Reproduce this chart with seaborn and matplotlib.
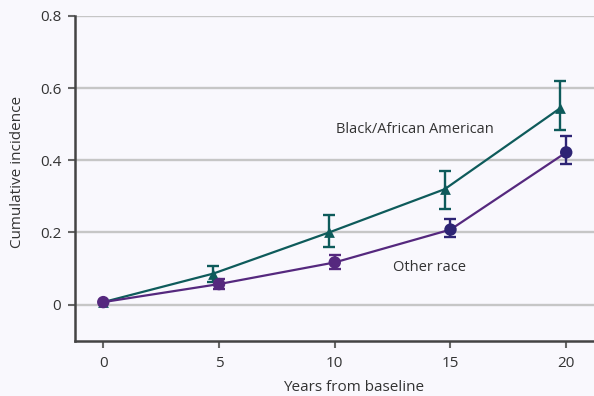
import matplotlib
matplotlib.use("Agg")
import matplotlib.pyplot as plt
import numpy as np
import pandas as pd
import seaborn as sns

# Cumulative incidence by years from baseline
years = [0, 5, 10, 15, 20]

black_est = [0.007, 0.086, 0.200, 0.320, 0.545]
black_lo = [0.007, 0.064, 0.160, 0.265, 0.483]
black_hi = [0.007, 0.106, 0.248, 0.371, 0.621]

other_est = [0.007, 0.057, 0.117, 0.208, 0.422]
other_lo = [0.007, 0.043, 0.099, 0.187, 0.391]
other_hi = [0.007, 0.071, 0.138, 0.237, 0.468]

series_labels = ["Black/African American", "Other race"]
y_ticks = [0, 0.2, 0.4, 0.6, 0.8]
y_tick_labels = ["0", "0.2", "0.4", "0.6", "0.8"]
x_ticks = [0, 5, 10, 15, 20]

sns.set_theme(style="white")
plt.rcParams["font.family"] = ["Open Sans", "DejaVu Sans"]

TEAL = "#0e5b5b"
PURPLE = "#55287e"
INDIGO = "#2d2474"
BG = "#f9f8fd"
TXT = "#333333"

fig = plt.figure(figsize=(5.94, 3.96), dpi=100, facecolor=BG)
ax = fig.add_axes([0.1263, 0.1396, 0.8737, 0.82])
ax.set_facecolor(BG)

# horizontal gridlines
for yv in y_ticks:
    ax.axhline(yv, color="#c6c6c6", lw=1.7, zorder=0)

df = pd.DataFrame({
    "year": years * 2,
    "value": black_est + other_est,
    "group": [series_labels[0]] * 5 + [series_labels[1]] * 5,
})
# small horizontal dodge so the error bars do not overlap
dodge = {series_labels[0]: -0.25, series_labels[1]: 0.0}
df["xpos"] = df["year"] + df["group"].map(dodge)
df.loc[df["year"] == 0, "xpos"] = 0

sns.lineplot(data=df, x="xpos", y="value", hue="group",
             palette={series_labels[0]: TEAL, series_labels[1]: PURPLE},
             lw=1.6, legend=False, ax=ax, zorder=3, estimator=None, sort=True)

# error bars
bx = df[df["group"] == series_labels[0]]["xpos"].to_numpy()
ox = df[df["group"] == series_labels[1]]["xpos"].to_numpy()
be = np.array(black_est)
oe = np.array(other_est)
other_cols = [PURPLE, PURPLE, PURPLE, INDIGO, INDIGO]
for i in range(1, 5):
    ax.errorbar(bx[i], be[i],
                yerr=[[be[i] - black_lo[i]], [black_hi[i] - be[i]]],
                fmt="none", ecolor=TEAL, elinewidth=1.7, capsize=4.5,
                capthick=1.7, zorder=4)
    ax.errorbar(ox[i], oe[i],
                yerr=[[oe[i] - other_lo[i]], [other_hi[i] - oe[i]]],
                fmt="none", ecolor=other_cols[i], elinewidth=1.7, capsize=4.5,
                capthick=1.7, zorder=4)

# markers
ax.scatter(bx, be, marker="^", s=60, color=TEAL, zorder=5, linewidths=0)
ax.scatter(ox, oe, marker="o", s=80, color=other_cols, zorder=6, linewidths=0)

ax.text(13.46, 0.485, series_labels[0], fontsize=10.5, color=TXT,
        ha="center", va="center")
ax.text(14.1, 0.103, series_labels[1], fontsize=10.5, color=TXT,
        ha="center", va="center")

ax.set_xlim(-1.22, 21.2)
ax.set_ylim(-0.1, 0.8)
ax.set_xticks(x_ticks)
ax.set_yticks(y_ticks)
ax.set_yticklabels(y_tick_labels)
ax.tick_params(axis="both", labelsize=11, colors="#666666", labelcolor=TXT,
               length=5, width=1.5, direction="out", bottom=True, left=True)
ax.tick_params(axis="y", pad=5)
ax.tick_params(axis="x", pad=6)
ax.set_xlabel("Years from baseline", fontsize=11, color=TXT, va="center")
ax.set_ylabel("Cumulative incidence", fontsize=11, color=TXT, va="center")
ax.xaxis.set_label_coords(0.536, -0.143)
ax.yaxis.set_label_coords(-0.11, 0.52)

for side in ["top", "right"]:
    ax.spines[side].set_visible(False)
for side in ["left", "bottom"]:
    ax.spines[side].set_color("#444444")
    ax.spines[side].set_linewidth(1.8)

fig.savefig("out.png", dpi=100, facecolor=BG)
